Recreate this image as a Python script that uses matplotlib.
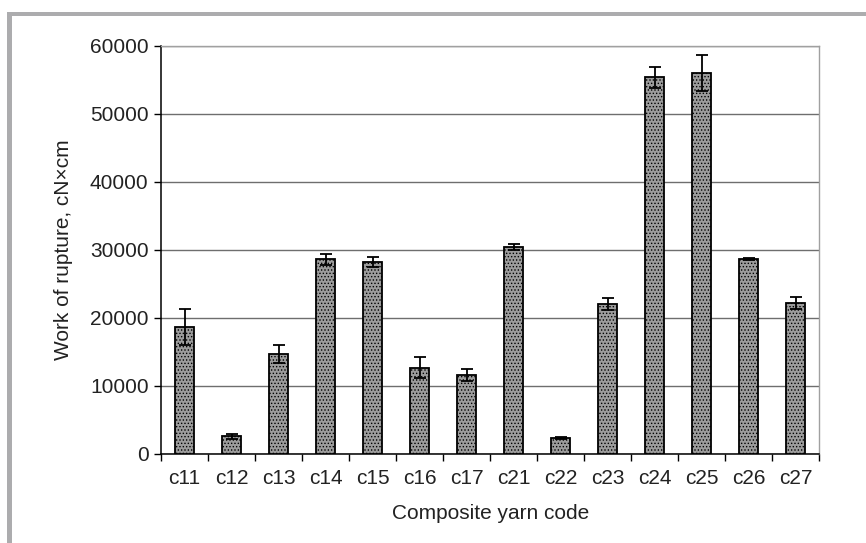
import matplotlib.pyplot as plt
import numpy as np
from matplotlib.patches import Rectangle

plt.rcParams['font.family'] = ['Liberation Sans', 'DejaVu Sans']
plt.rcParams['hatch.color'] = '#5a5a5a'
plt.rcParams['hatch.linewidth'] = 0.6

codes = ["c11", "c12", "c13", "c14", "c15", "c16", "c17",
         "c21", "c22", "c23", "c24", "c25", "c26", "c27"]
work = [18700, 2600, 14650, 28600, 28200, 12700, 11550,
        30450, 2300, 22050, 55350, 56000, 28600, 22150]
err = [2650, 400, 1300, 800, 800, 1600, 900,
       450, 150, 880, 1560, 2650, 150, 900]

fig = plt.figure(figsize=(8.66, 5.43), dpi=100)
ax = fig.add_axes([0.186, 0.164, 0.760, 0.752])

x = np.arange(len(codes))
ax.bar(x, work, width=0.4, color='#9c9c9c', edgecolor='black', linewidth=1.3,
       hatch='.....', zorder=3)
ax.errorbar(x, work, yerr=err, fmt='none', ecolor='black', elinewidth=1.3,
            capsize=4, capthick=1.3, zorder=4)

ax.set_xlim(-0.5, len(codes) - 0.5)
ax.set_ylim(0, 60000)
ax.set_yticks(np.arange(0, 60001, 10000))
ax.yaxis.grid(True, color='#6e6e6e', linewidth=1.0, zorder=0)
ax.set_axisbelow(True)

ax.set_xticks(x)
ax.set_xticklabels(codes)
ax.set_xticks(np.arange(-0.5, len(codes), 1), minor=True)
ax.tick_params(axis='x', which='major', length=0, labelsize=15, pad=11,
               labelcolor='#222222')
ax.tick_params(axis='x', which='minor', length=5, width=1, direction='out')
ax.tick_params(axis='y', length=5, width=1, labelsize=15, pad=4,
               labelcolor='#222222')

for s in ['left', 'bottom']:
    ax.spines[s].set_color('black')
    ax.spines[s].set_linewidth(1.1)
for s in ['top', 'right']:
    ax.spines[s].set_color('#a0a0a0')
    ax.spines[s].set_linewidth(1.0)

ax.set_xlabel("Composite yarn code", fontsize=15, color='#222222', labelpad=11)
ax.set_ylabel("Work of rupture, cN×cm", fontsize=15, color='#222222', labelpad=12)

# grey frame at top and left of the picture
frame_col = '#acacae'
fig.add_artist(Rectangle((7 / 866, 1 - 16 / 543), 1, 4 / 543,
                         transform=fig.transFigure, color=frame_col, lw=0))
fig.add_artist(Rectangle((7 / 866, 0), 5 / 866, 1 - 12 / 543,
                         transform=fig.transFigure, color=frame_col, lw=0))

fig.savefig("out.png", dpi=100)
